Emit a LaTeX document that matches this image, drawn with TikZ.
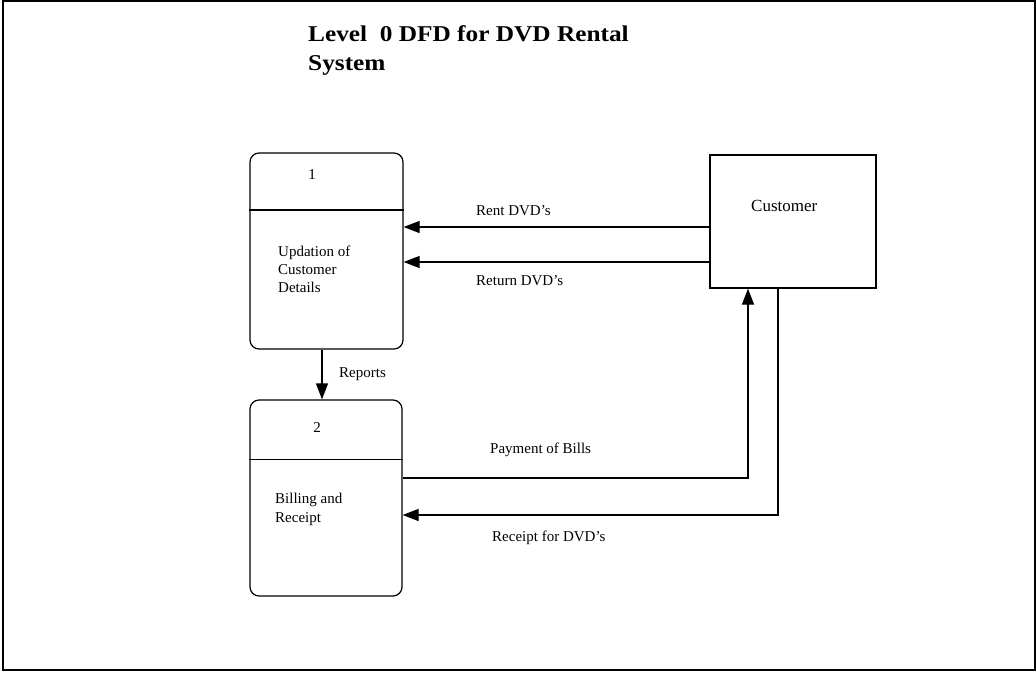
\documentclass[tikz,border=0pt]{standalone}
\usepackage{fontspec}
\setmainfont{Liberation Serif}
\newfontfamily\headfont[FakeStretch=1.12]{Liberation Serif}
\usetikzlibrary{arrows.meta}

\tikzset{
  frame/.style={draw=black, line width=1.4pt},
  proc/.style={draw=black, line width=1.2pt, rounded corners=9pt, inner sep=0pt},
  entity/.style={draw=black, line width=1.2pt, inner sep=0pt},
  divider/.style={draw=black, line width=1.2pt},
  flow/.style={draw=black, line width=1.2pt, -{Triangle[length=16pt,width=12pt]}},
  lbl/.style={inner sep=0pt, anchor=base west, align=left,
    font=\fontsize{15}{18}\selectfont},
  numlbl/.style={inner sep=0pt, anchor=base,
    font=\fontsize{15}{18}\selectfont},
  heading/.style={inner sep=0pt, anchor=base west, align=left,
    font=\headfont\bfseries\fontsize{22.6}{29}\selectfont}
}

\begin{document}
\begin{tikzpicture}[x=1pt, y=-1pt]
  \useasboundingbox (0,0) rectangle (1036,672);
  \draw[frame] (3,1) rectangle (1035,670);

  % heading (multi-line nodes sit on the baseline of their last line)
  \node[heading] (title) at (308,70.5) {Level\ \ 0 DFD for DVD Rental\\System};

  % processes and external entity
  \node[proc, minimum width=153pt, minimum height=196pt] (p1) at (326.5,251) {};
  \node[proc, minimum width=152pt, minimum height=196pt] (p2) at (326,498) {};
  \node[entity, minimum width=166pt, minimum height=133pt] (cust) at (793,221.5) {};

  % helper levels for the flows
  \coordinate (yDiv1) at (0,210);
  \coordinate (yDiv2) at (0,459.5);
  \coordinate (yRent) at (0,227);
  \coordinate (yRet)  at (0,262);
  \coordinate (yPay)  at (0,478);
  \coordinate (yRec)  at (0,515);
  \coordinate (xRep)  at (322,0);
  \coordinate (xPay)  at (748,0);
  \coordinate (xRec)  at (778,0);

  % compartment lines
  \draw[divider] (p1.west |- yDiv1) -- (p1.east |- yDiv1);
  \draw[divider] (p2.west |- yDiv2) -- (p2.east |- yDiv2);

  % texts inside the boxes
  \node[numlbl] (n1) at (312,179) {1};
  \node[lbl] (d1) at (278,292.7) {Updation of\\Customer\\Details};
  \node[numlbl] (n2) at (317,432) {2};
  \node[lbl, font=\fontsize{15}{19}\selectfont] (d2) at (275,522.7) {Billing and\\Receipt};
  \node[lbl, font=\fontsize{17}{20}\selectfont] (cname) at (751,211) {Customer};

  % data flows
  \draw[flow] (cust.west |- yRent) -- (p1.east |- yRent);
  \draw[flow] (cust.west |- yRet) -- (p1.east |- yRet);
  \draw[flow] (p1.south -| xRep) -- (p2.north -| xRep);
  \draw[flow] (p2.east |- yPay) -| (cust.south -| xPay);
  \draw[flow] (cust.south -| xRec) |- (p2.east |- yRec);

  % flow labels
  \node[lbl] (lRent) at (476,215) {Rent DVD's};
  \node[lbl] (lRet) at (476,285.7) {Return DVD's};
  \node[lbl] (lRep) at (339,377) {Reports};
  \node[lbl] (lPay) at (490,453) {Payment of Bills};
  \node[lbl] (lRec) at (492,541.7) {Receipt for DVD's};
\end{tikzpicture}
\end{document}
